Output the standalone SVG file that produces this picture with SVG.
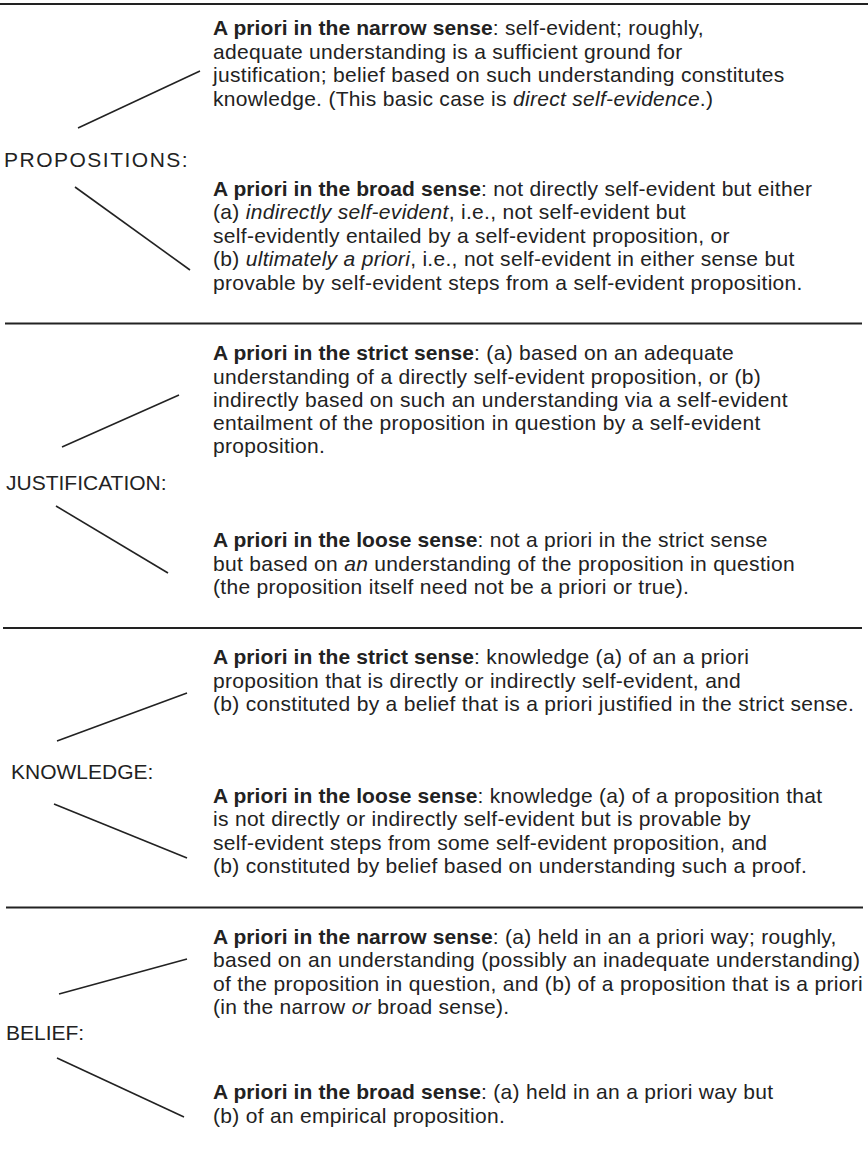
<svg xmlns="http://www.w3.org/2000/svg" width="868" height="1156" viewBox="0 0 868 1156">
<style>
text{font-family:"Liberation Sans",Arial,Helvetica,sans-serif;font-size:21px;fill:#222;letter-spacing:0.3px}
.lbl{letter-spacing:0}
.b{font-weight:bold;letter-spacing:0.1px}
.i{font-style:italic}
.rule{stroke:#222;stroke-width:2.2;fill:none}
.con{stroke:#222;stroke-width:1.6;fill:none}
</style>
<rect width="868" height="1156" fill="#fff"/>
<g id="rules">
<line class="rule" x1="0" y1="4" x2="868" y2="4"/>
<line class="rule" x1="5" y1="323.5" x2="862" y2="323.5"/>
<line class="rule" x1="3" y1="628" x2="862" y2="628"/>
<line class="rule" x1="6" y1="907.5" x2="863" y2="907.5"/>
</g>
<g id="connectors">
<line class="con" x1="78" y1="128" x2="200" y2="71"/>
<line class="con" x1="75" y1="187" x2="190" y2="270"/>
<line class="con" x1="62" y1="447" x2="179" y2="395"/>
<line class="con" x1="56" y1="506" x2="168" y2="573"/>
<line class="con" x1="57" y1="741" x2="187" y2="693"/>
<line class="con" x1="54" y1="804" x2="187" y2="858"/>
<line class="con" x1="59" y1="994" x2="187" y2="959"/>
<line class="con" x1="57" y1="1058" x2="184" y2="1117"/>
</g>
<g id="propositions">
<text class="lbl" x="4" y="167" style="letter-spacing:1.5px">PROPOSITIONS:</text>
</g>
<g id="prop-narrow">
<text x="213" y="35"><tspan class="b">A priori in the narrow sense</tspan>: self-evident; roughly,</text>
<text x="213" y="59">adequate understanding is a sufficient ground for</text>
<text x="213" y="82">justification; belief based on such understanding constitutes</text>
<text x="213" y="106">knowledge. (This basic case is <tspan class="i">direct self-evidence</tspan>.)</text>
</g>
<g id="prop-broad">
<text x="213" y="196"><tspan class="b">A priori in the broad sense</tspan>: not directly self-evident but either</text>
<text x="213" y="219">(a) <tspan class="i">indirectly self-evident</tspan>, i.e., not self-evident but</text>
<text x="213" y="243">self-evidently entailed by a self-evident proposition, or</text>
<text x="213" y="266">(b) <tspan class="i">ultimately a priori</tspan>, i.e., not self-evident in either sense but</text>
<text x="213" y="290">provable by self-evident steps from a self-evident proposition.</text>
</g>
<g id="justification">
<text class="lbl" x="6" y="490">JUSTIFICATION:</text>
</g>
<g id="just-strict">
<text x="213" y="360"><tspan class="b">A priori in the strict sense</tspan>: (a) based on an adequate</text>
<text x="213" y="384">understanding of a directly self-evident proposition, or (b)</text>
<text x="213" y="407">indirectly based on such an understanding via a self-evident</text>
<text x="213" y="430">entailment of the proposition in question by a self-evident</text>
<text x="213" y="453">proposition.</text>
</g>
<g id="just-loose">
<text x="213" y="547"><tspan class="b">A priori in the loose sense</tspan>: not a priori in the strict sense</text>
<text x="213" y="571">but based on <tspan class="i">an</tspan> understanding of the proposition in question</text>
<text x="213" y="594">(the proposition itself need not be a priori or true).</text>
</g>
<g id="knowledge">
<text class="lbl" x="11" y="779">KNOWLEDGE:</text>
</g>
<g id="know-strict">
<text x="213" y="664"><tspan class="b">A priori in the strict sense</tspan>: knowledge (a) of an a priori</text>
<text x="213" y="688">proposition that is directly or indirectly self-evident, and</text>
<text x="213" y="711">(b) constituted by a belief that is a priori justified in the strict sense.</text>
</g>
<g id="know-loose">
<text x="213" y="803"><tspan class="b">A priori in the loose sense</tspan>: knowledge (a) of a proposition that</text>
<text x="213" y="826">is not directly or indirectly self-evident but is provable by</text>
<text x="213" y="850">self-evident steps from some self-evident proposition, and</text>
<text x="213" y="873">(b) constituted by belief based on understanding such a proof.</text>
</g>
<g id="belief">
<text class="lbl" x="6" y="1040">BELIEF:</text>
</g>
<g id="belief-narrow">
<text x="213" y="944"><tspan class="b">A priori in the narrow sense</tspan>: (a) held in an a priori way; roughly,</text>
<text x="213" y="967">based on an understanding (possibly an inadequate understanding)</text>
<text x="213" y="991">of the proposition in question, and (b) of a proposition that is a priori</text>
<text x="213" y="1014">(in the narrow <tspan class="i">or</tspan> broad sense).</text>
</g>
<g id="belief-broad">
<text x="213" y="1099"><tspan class="b">A priori in the broad sense</tspan>: (a) held in an a priori way but</text>
<text x="213" y="1123">(b) of an empirical proposition.</text>
</g>
</svg>
